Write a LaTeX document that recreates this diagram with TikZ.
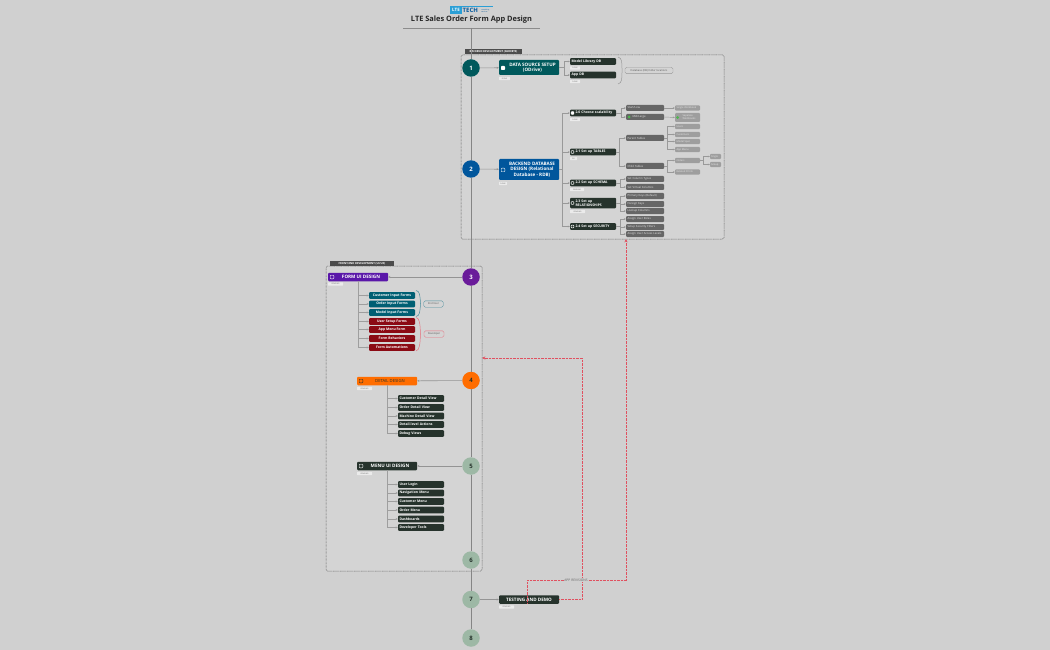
\documentclass[tikz,border=0pt]{standalone}
\usepackage{fontspec}
\usetikzlibrary{arrows.meta}
\setmainfont{Open Sans}
\definecolor{pagegray}{HTML}{D0D0D0}
\definecolor{groupgray}{HTML}{D4D4D4}
\definecolor{darkgreen}{HTML}{26332C}
\definecolor{stepteal}{HTML}{00595C}
\definecolor{stepblue}{HTML}{00569C}
\definecolor{steppurple}{HTML}{6A1B9A}
\definecolor{steporange}{HTML}{FF6D00}
\definecolor{stepsage}{HTML}{9DB8A5}
\definecolor{formteal}{HTML}{005F73}
\definecolor{formred}{HTML}{8B0A14}
\definecolor{revred}{HTML}{E0505F}
\definecolor{logoblue}{HTML}{2A9FD6}
\tikzset{
  stepdot/.style={circle, minimum size=17.5, inner sep=0, font=\fontsize{6}{7}\selectfont\bfseries, text=white},
  sagedot/.style={stepdot, fill=stepsage, text=darkgreen},
  mainbox/.style={rectangle, rounded corners=1, minimum width=60, inner sep=0, align=center, text=white, font=\fontsize{4.6}{5.6}\selectfont\bfseries},
  leafbox/.style={rectangle, rounded corners=1, minimum width=46, minimum height=6.8, inner sep=0, align=center, text=white, font=\fontsize{3.4}{3.9}\selectfont\bfseries},
  darkleaf/.style={leafbox, fill=darkgreen, text width=43, align=left},
  greyleaf/.style={leafbox, fill=black!60, minimum width=38, minimum height=6, text width=35, align=left, text=white!90!black, font=\fontsize{2.8}{3.2}\selectfont},
  paleleaf/.style={leafbox, fill=black!38, minimum width=25, minimum height=5.2, text width=22, align=left, text=white!90!black, font=\fontsize{2.5}{2.9}\selectfont\mdseries},
  tagbox/.style={rectangle, rounded corners=.5, fill=white!92!black, inner sep=0, minimum height=3.4, text=black!60, font=\fontsize{1.8}{2}\selectfont},
  notebox/.style={rectangle, rounded corners=1.5, draw=black!40, line width=.4, inner sep=0, minimum height=6.4, text=black!65, font=\fontsize{2.6}{3}\selectfont},
  groupbox/.style={rectangle, rounded corners=1.5, draw=black!60, dash pattern=on .8 off .6, line width=.5, fill=groupgray, inner sep=0},
  grouplabel/.style={rectangle, fill=black!70, inner sep=0, minimum height=5, text=white, font=\fontsize{2.7}{3.2}\selectfont\bfseries},
  iconbox/.style={rectangle, rounded corners=.8, draw=white, line width=.4, minimum size=3.6, inner sep=0},
  trunk/.style={draw=black!48, line width=1},
  armline/.style={draw=black!42, line width=.6, -{Stealth[length=2.2,width=2]}},
  armthick/.style={armline, line width=1},
  kidline/.style={armline, draw=black!38, line width=.8},
  branch/.style={draw=black!40, line width=.45, -{Stealth[length=2,width=1.8]}},
  revline/.style={draw=revred, dash pattern=on 1 off .4, line width=.7, -{Stealth[length=3.4,width=3.2]}}
}
\begin{document}
\begin{tikzpicture}[x=1pt,y=-1pt]
\useasboundingbox[fill=pagegray] (0,0) rectangle (1050,650);

% Groups behind everything
\node[groupbox, minimum width=263, minimum height=184] (backend) at (592.5,147) {};
\node[grouplabel, minimum width=57] (backendlabel) at (493.5,52) {BACKEND DEVELOPMENT (GSHEETS)};
\node[groupbox, minimum width=156, minimum height=305] (frontend) at (404,418.5) {};
\node[grouplabel, minimum width=64] (frontendlabel) at (362,263.5) {FRONT-END DEVELOPMENT (UI/UX)};

% Logo and title
\node[rectangle, fill=logoblue, minimum width=43, minimum height=1.2, inner sep=0] (logobar) at (471.5,6.6) {};
\node[rectangle, fill=logoblue, minimum width=12, minimum height=7.6, inner sep=0, text=white, font=\fontsize{4.5}{5}\selectfont\bfseries] (logolte) at (456,10) {LTE};
\node[anchor=west, inner sep=0, text=stepblue, font=\fontsize{6}{6.5}\selectfont\bfseries] (logotech) at (462.5,10.5) {TECH};
\node[anchor=west, inner sep=0, text=stepblue, font=\fontsize{1.7}{2}\selectfont, align=left] (logosub) at (481,10.5) {consulting\\services};
\node[font=\fontsize{7.4}{8}\selectfont\bfseries, text=black!85, inner sep=0] (title) at (471.5,20) {LTE Sales Order Form App Design};
\coordinate (ruleleft) at (403,28);
\coordinate (ruleright) at (540,28);
\coordinate (ruletop) at (471,28);
\draw[draw=black!45, line width=.6] (ruleleft) -- (ruleright);

% Step dots
\node[stepdot, fill=stepteal] (dot1) at (471,68) {1};
\node[stepdot, fill=stepblue] (dot2) at (471,169) {2};
\node[stepdot, fill=steppurple] (dot3) at (471,277) {3};
\node[stepdot, fill=steporange, text=darkgreen] (dot4) at (471,380.5) {4};
\node[sagedot] (dot5) at (471,466) {5};
\node[sagedot] (dot6) at (471,560) {6};
\node[sagedot] (dot7) at (471,599.5) {7};
\node[sagedot] (dot8) at (471,638) {8};
\draw[trunk] (ruletop) -- (dot1);
\draw[trunk] (dot1) -- (dot2);
\draw[trunk] (dot2) -- (dot3);
\draw[trunk] (dot3) -- (dot4);
\draw[trunk] (dot4) -- (dot5);
\draw[trunk] (dot5) -- (dot6);
\draw[trunk] (dot6) -- (dot7);
\draw[trunk] (dot7) -- (dot8);

% Main steps
\node[mainbox, fill=stepteal, minimum height=15] (datasource) at (529,67.5) {\hspace*{7pt}DATA SOURCE SETUP\\\hspace*{7pt}(ODrive)};
\node[mainbox, fill=stepblue, minimum height=21] (dbdesign) at (529,169.5) {\hspace*{6pt}BACKEND DATABASE\\\hspace*{6pt}DESIGN (Relational\\\hspace*{6pt}Database - RDB)};
\node[mainbox, fill=steppurple!85!blue, minimum height=8.5] (formui) at (358,277) {\hspace*{6pt}FORM UI DESIGN};
\node[mainbox, fill=steporange, minimum height=8.5, text=darkgreen, font=\fontsize{4.2}{5}\selectfont] (detailui) at (387,381) {\hspace*{6pt}DETAIL DESIGN};
\node[mainbox, fill=darkgreen, minimum height=8.5] (menuui) at (387,466) {\hspace*{6pt}MENU UI DESIGN};
\node[mainbox, fill=darkgreen, minimum height=8.5] (testing) at (529,599.5) {TESTING AND DEMO};
\node[iconbox, fill=white] (icondata) at (503,68) {};
\node[iconbox] (icondb) at (503,170) {};
\node[iconbox] (iconform) at (332,277) {};
\node[iconbox, draw=darkgreen] (icondetail) at (361,381) {};
\node[iconbox] (iconmenu) at (361,466) {};
\draw[armline] (dot1) -- (datasource);
\draw[armline] (dot2) -- (dbdesign);
\draw[armthick] (dot3) -- (formui);
\draw[armline] (dot4) -- (detailui);
\draw[armthick] (dot5) -- (menuui);
\draw[armline] (dot7) -- (testing);

% Tags under the steps
\node[tagbox, minimum width=11] (tagdata) at (504.5,78.5) {DONE};
\node[tagbox, minimum width=8] (tagdb) at (503,183.5) {DONE};
\node[tagbox, minimum width=15] (tagform) at (335.5,284) {PENDING};
\node[tagbox, minimum width=15] (tagdetail) at (364.5,388.5) {PENDING};
\node[tagbox, minimum width=15] (tagmenu) at (364.5,473.5) {PENDING};
\node[tagbox, minimum width=15] (tagtesting) at (506.5,607) {PENDING};

% Data source children
\node[darkleaf] (modeldb) at (593,61.5) {Model Library DB};
\node[darkleaf] (appdb) at (593,75) {App DB};
\node[tagbox, minimum width=10] (tagmodeldb) at (575,68) {DONE};
\node[tagbox, minimum width=10] (tagappdb) at (575,81.5) {DONE};
\draw[branch] (datasource.east) -- ++(5,0) |- (modeldb.west);
\draw[branch] (datasource.east) -- ++(5,0) |- (appdb.west);
\node[notebox, minimum width=48] (dbnote) at (649,70.5) {Database (DB) folder locations};
\coordinate (dbbracetop) at (618,57);
\coordinate (dbbracebot) at (618,84);
\draw[draw=black!40, line width=.5] (dbbracetop) .. controls (622,58) and (622,62) .. (622,70.5) .. controls (622,79) and (622,83) .. (dbbracebot);

% Database design: second level
\node[darkleaf] (scale) at (593,113) {\hspace*{4pt}2.0 Choose scalability};
\node[darkleaf] (tables) at (593,152) {\hspace*{4pt}2.1 Set up TABLES};
\node[darkleaf] (schema) at (593,183) {\hspace*{4pt}2.2 Set up SCHEMA};
\node[darkleaf, minimum height=10.5] (relations) at (593,203) {\hspace*{4pt}2.3 Set up\\\hspace*{4pt}RELATIONSHIPS};
\node[darkleaf] (security) at (593,226.5) {\hspace*{4pt}2.4 Set up SECURITY};
\node[iconbox, fill=white, minimum size=2.8] (iconscale) at (572.5,113) {};
\node[iconbox, minimum size=2.8] (icontables) at (572.5,152) {};
\node[iconbox, minimum size=2.8] (iconschema) at (572.5,183) {};
\node[iconbox, minimum size=2.8] (iconrelations) at (572.5,203) {};
\node[iconbox, minimum size=2.8] (iconsecurity) at (572.5,226.5) {};
\node[tagbox, minimum width=10] (tagscale) at (575,119.5) {DONE};
\node[tagbox, minimum width=7] (tagtables) at (573.5,158.5) {DO};
\node[tagbox, minimum width=14] (tagschema) at (577,189.5) {PENDING};
\node[tagbox, minimum width=15] (tagrelations) at (577.5,211.5) {PENDING};
\draw[branch] (dbdesign.east) -- ++(3,0) |- (scale.west);
\draw[branch] (dbdesign.east) -- ++(3,0) |- (tables.west);
\draw[branch] (dbdesign.east) -- ++(3,0) |- (schema.west);
\draw[branch] (dbdesign.east) -- ++(3,0) |- (relations.west);
\draw[branch] (dbdesign.east) -- ++(3,0) |- (security.west);

% Database design: third level
\node[greyleaf] (startlow) at (645,108) {Start/Low};
\node[greyleaf] (midlarge) at (645,117) {\hspace*{5pt}Mid/Large};
\node[greyleaf] (parenttab) at (645,138) {Parent Tables};
\node[greyleaf] (childtab) at (645,166) {Child Tables};
\node[greyleaf] (coltypes) at (645,179) {Set Column Types};
\node[greyleaf] (virtcols) at (645,187) {Set Virtual Columns};
\node[greyleaf] (primkeys) at (645,196) {Primary Keys (Default)};
\node[greyleaf] (forkeys) at (645,204) {Foreign Keys};
\node[greyleaf] (lookcols) at (645,211) {Lookup Columns};
\node[greyleaf] (userroles) at (645,219) {Assign User Roles};
\node[greyleaf] (secfilters) at (645,227) {Setup Security Filters};
\node[greyleaf] (acclevels) at (645,234) {Assign User Access Levels};
\node[circle, fill=green!60!black!70, minimum size=3, inner sep=0] (dotmid) at (629,117) {};
\draw[branch] (scale.east) -- ++(5,0) |- (startlow.west);
\draw[branch] (scale.east) -- ++(5,0) |- (midlarge.west);
\draw[branch] (tables.east) -- ++(3,0) |- (parenttab.west);
\draw[branch] (tables.east) -- ++(3,0) |- (childtab.west);
\draw[branch] (schema.east) -- ++(4,0) |- (coltypes.west);
\draw[branch] (schema.east) -- ++(4,0) |- (virtcols.west);
\draw[branch] (relations.east) -- ++(4,0) |- (primkeys.west);
\draw[branch] (relations.east) -- ++(4,0) |- (forkeys.west);
\draw[branch] (relations.east) -- ++(4,0) |- (lookcols.west);
\draw[branch] (security.east) -- ++(4,0) |- (userroles.west);
\draw[branch] (security.east) -- ++(4,0) |- (secfilters.west);
\draw[branch] (security.east) -- ++(4,0) |- (acclevels.west);

% Database design: fourth level
\node[paleleaf] (singlewb) at (687.5,108) {Single Workbook};
\node[paleleaf, minimum height=9] (separatewb) at (687.5,117.5) {\hspace*{6pt}Separate\\\hspace*{6pt}Workbooks};
\node[circle, fill=green!60!black!70, minimum size=3, inner sep=0] (dotsep) at (677.5,117.5) {};
\node[paleleaf] (users) at (687.5,126.5) {Users};
\node[paleleaf] (customers) at (687.5,134.5) {Customers};
\node[paleleaf] (modelspec) at (687.5,141.5) {Model Spec};
\node[paleleaf] (appmenu) at (687.5,149.5) {App Menu};
\node[paleleaf] (orders) at (687.5,160.5) {Orders};
\node[paleleaf] (related) at (687.5,172) {Related Prints};
\node[paleleaf, minimum width=11, text width=9] (singleord) at (715.5,156.5) {Single};
\node[paleleaf, minimum width=11, text width=9] (grouped) at (715.5,164.5) {Group};
\draw[branch] (startlow.east) -- (singlewb.west);
\draw[branch] (midlarge.east) -- (separatewb.west);
\draw[branch] (parenttab.east) -- ++(3,0) |- (users.west);
\draw[branch] (parenttab.east) -- ++(3,0) |- (customers.west);
\draw[branch] (parenttab.east) -- ++(3,0) |- (modelspec.west);
\draw[branch] (parenttab.east) -- ++(3,0) |- (appmenu.west);
\draw[branch] (childtab.east) -- ++(3,0) |- (orders.west);
\draw[branch] (childtab.east) -- ++(3,0) |- (related.west);
\draw[branch] (orders.east) -- ++(3,0) |- (singleord.west);
\draw[branch] (orders.east) -- ++(3,0) |- (grouped.west);

% Form UI children
\coordinate (formtrunk) at (358,281.25);
\node[leafbox, fill=formteal] (custform) at (392,295.5) {Customer Input Forms};
\node[leafbox, fill=formteal] (orderform) at (392,304) {Order Input Forms};
\node[leafbox, fill=formteal] (modelform) at (392,312.5) {Model Input Forms};
\node[leafbox, fill=formred] (userform) at (392,321.5) {User Setup Forms};
\node[leafbox, fill=formred] (menuform) at (392,329.5) {App Menu Form};
\node[leafbox, fill=formred] (behavform) at (392,338.5) {Form Behaviors};
\node[leafbox, fill=formred] (autoform) at (392,347.5) {Form Automations};
\draw[kidline] (formtrunk) |- (custform.west);
\draw[kidline] (formtrunk) |- (orderform.west);
\draw[kidline] (formtrunk) |- (modelform.west);
\draw[kidline] (formtrunk) |- (userform.west);
\draw[kidline] (formtrunk) |- (menuform.west);
\draw[kidline] (formtrunk) |- (behavform.west);
\draw[kidline] (formtrunk) |- (autoform.west);
\node[notebox, draw=formteal!70, minimum width=19.5] (endusernote) at (433.5,304) {End User};
\node[notebox, draw=revred!80, minimum width=20] (devnote) at (434,334) {Developer};
\draw[draw=formteal!70, line width=.5] (416,290.5) .. controls (420,291) and (420,296) .. (420.5,303.5) .. controls (420,311) and (420,316) .. (416,316.5);
\draw[draw=revred!80, line width=.5] (416,317.5) .. controls (420,318) and (420,325) .. (420.5,334) .. controls (420,343) and (420,350) .. (416,351);

% Detail children
\coordinate (detailtrunk) at (387,385.25);
\node[darkleaf] (custdetail) at (421,398.5) {Customer Detail View};
\node[darkleaf] (orderdetail) at (421,407.5) {Order Detail View};
\node[darkleaf] (machdetail) at (421,416) {Machine Detail View};
\node[darkleaf] (leveldetail) at (421,424.5) {Detail-level Actions};
\node[darkleaf] (debugdetail) at (421,433.5) {Debug Views};
\draw[kidline] (detailtrunk) |- (custdetail.west);
\draw[kidline] (detailtrunk) |- (orderdetail.west);
\draw[kidline] (detailtrunk) |- (machdetail.west);
\draw[kidline] (detailtrunk) |- (leveldetail.west);
\draw[kidline] (detailtrunk) |- (debugdetail.west);

% Menu children
\coordinate (menutrunk) at (387,470.25);
\node[darkleaf] (userlogin) at (421,484.5) {User Login};
\node[darkleaf] (navmenu) at (421,493) {Navigation Menu};
\node[darkleaf] (custmenu) at (421,501.5) {Customer Menu};
\node[darkleaf] (ordermenu) at (421,510) {Order Menu};
\node[darkleaf] (dashboards) at (421,519) {Dashboards};
\node[darkleaf] (devtools) at (421,527.5) {Developer Tools};
\draw[kidline] (menutrunk) |- (userlogin.west);
\draw[kidline] (menutrunk) |- (navmenu.west);
\draw[kidline] (menutrunk) |- (custmenu.west);
\draw[kidline] (menutrunk) |- (ordermenu.west);
\draw[kidline] (menutrunk) |- (dashboards.west);
\draw[kidline] (menutrunk) |- (devtools.west);

% Revision loops
\coordinate (frontentry) at (482,358);
\coordinate (backentry) at (626,239);
\coordinate (testmid) at (527,603.75);
\draw[revline] (testing.east) -- ++(23,0) |- (frontentry);
\draw[revline] (testmid) |- (backentry |- 0,580) -- (backentry);
\node[fill=pagegray, inner sep=.5, text=black!60, font=\fontsize{3.3}{3.8}\selectfont] (revlabel) at (576,580) {APP REVISIONS};
\end{tikzpicture}
\end{document}
